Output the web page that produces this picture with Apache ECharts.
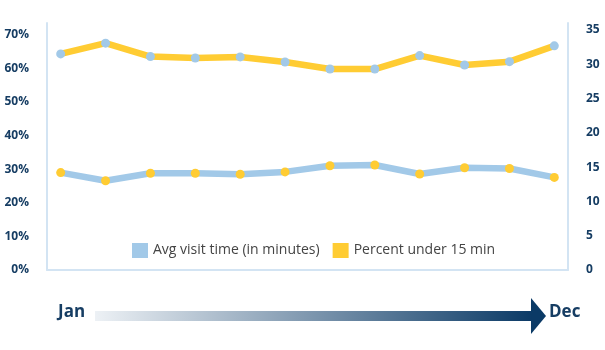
<!DOCTYPE html>
<html>
<head>
<meta charset="utf-8">
<script src="https://cdn.jsdelivr.net/npm/echarts@6/dist/echarts.min.js"></script>
<style>html,body{margin:0;padding:0;background:#fff}#c{width:605px;height:350px}</style>
</head>
<body>
<div id="c"></div>
<script>
const months = ['Jan','Feb','Mar','Apr','May','Jun','Jul','Aug','Sep','Oct','Nov','Dec'];
const avgVisitTime = [14.2, 13.0, 14.1, 14.1, 13.95, 14.3, 15.2, 15.3, 14.0, 14.9, 14.8, 13.5];
const percentUnder15 = [64.3, 67.5, 63.5, 63.1, 63.4, 61.9, 59.8, 59.8, 63.8, 61.0, 62.0, 66.7];
const leftTicks = [0, 10, 20, 30, 40, 50, 60, 70];
const rightTicks = [0, 5, 10, 15, 20, 25, 30, 35];
const seriesNames = ['Avg visit time (in minutes)', 'Percent under 15 min'];

const BLUE = '#a2c9e8', YELLOW = '#ffcc33', NAVY = '#163d63', AXIS = '#d3e4f3';
const chart = echarts.init(document.getElementById('c'), null, {renderer: 'canvas'});
const labelStyle = {color: NAVY, fontWeight: 'bold', fontSize: 12, fontFamily: 'Open Sans', margin: 18};

chart.setOption({
  animation: false,
  grid: {left: 47, right: 37, top: 23, bottom: 80},
  xAxis: {
    type: 'value', min: -0.305, max: 11.305,
    axisLine: {show: true, onZero: false, lineStyle: {color: AXIS, width: 2}},
    axisTick: {show: false}, axisLabel: {show: false}, splitLine: {show: false}
  },
  yAxis: [
    {
      type: 'value', min: 0, max: 73.5, interval: 10, position: 'left',
      axisLine: {show: true, onZero: false, lineStyle: {color: AXIS, width: 2}},
      axisTick: {show: false}, splitLine: {show: false},
      axisLabel: Object.assign({}, labelStyle, {
        formatter: v => leftTicks.includes(v) ? v + '%' : ''
      })
    },
    {
      type: 'value', min: 0, max: 36, interval: 5, position: 'right',
      axisLine: {show: true, onZero: false, lineStyle: {color: AXIS, width: 2}},
      axisTick: {show: false}, splitLine: {show: false},
      axisLabel: Object.assign({}, labelStyle, {
        formatter: v => rightTicks.includes(v) ? String(v) : ''
      })
    }
  ],
  legend: {
    left: 127, top: 238, itemWidth: 16, itemHeight: 15, itemGap: 13,
    icon: 'rect',
    textStyle: {color: '#444', fontSize: 14, fontFamily: 'Open Sans'},
    data: [
      {name: seriesNames[0], icon: 'rect', itemStyle: {color: BLUE, borderWidth: 0}, lineStyle: {width: 0}},
      {name: seriesNames[1], icon: 'rect', itemStyle: {color: YELLOW, borderWidth: 0}, lineStyle: {width: 0}}
    ]
  },
  series: [
    {
      name: seriesNames[0], type: 'line', yAxisIndex: 1,
      data: avgVisitTime.map((v, i) => [i, v]),
      lineStyle: {color: BLUE, width: 6.5},
      itemStyle: {color: YELLOW, borderWidth: 0},
      symbol: 'circle', symbolSize: 9, showAllSymbol: true
    },
    {
      name: seriesNames[1], type: 'line', yAxisIndex: 0,
      data: percentUnder15.map((v, i) => [i, v]),
      lineStyle: {color: YELLOW, width: 6.5},
      itemStyle: {color: BLUE, borderWidth: 0},
      symbol: 'circle', symbolSize: 9, showAllSymbol: true
    }
  ],
  graphic: [
    {type: 'text', left: 58, top: 304, style: {text: months[0], fill: NAVY, font: 'bold 17px "Open Sans"'}},
    {type: 'text', left: 549, top: 304, style: {text: months[11], fill: NAVY, font: 'bold 17px "Open Sans"'}},
    {type: 'rect', shape: {x: 95, y: 311, width: 437, height: 10},
     style: {fill: new echarts.graphic.LinearGradient(0, 0, 1, 0, [
       {offset: 0, color: '#edf1f5'}, {offset: 1, color: '#0b3a66'}])}},
    {type: 'polygon', shape: {points: [[531, 298], [546, 316], [531, 334]]}, style: {fill: '#0b3a66'}}
  ]
});
</script>
</body>
</html>
